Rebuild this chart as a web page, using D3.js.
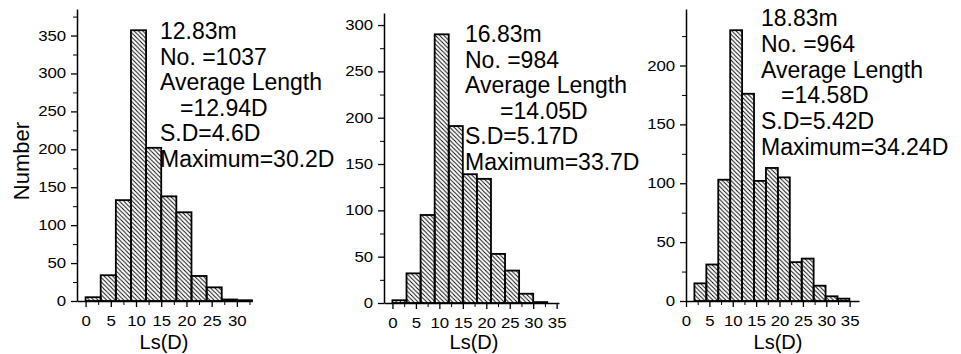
<!DOCTYPE html>
<html>
<head>
<meta charset="utf-8">
<script src="https://cdn.jsdelivr.net/npm/d3@7"></script>
<style>
  body { margin: 0; background: #fff; }
  text { font-family: "Liberation Sans", Arial, sans-serif; }
</style>
</head>
<body>
<svg id="chart" width="961" height="354"></svg>
<script>
// counts per bin
const counts1 = [5, 34, 133, 357, 202, 138, 117, 33, 18, 2, 1];
const counts2 = [3, 32, 95, 290, 191, 139, 134, 53, 35, 10, 1];
const counts3 = [15, 31, 103, 230, 176, 102, 113, 105, 33, 36, 13, 4, 2];

// first bin edge and bin width (in D)
const bins1 = [0, 3];
const bins2 = [0, 3];
const bins3 = [1.8, 2.55];

const notes1 = ["12.83m", "No. =1037", "Average Length", "=12.94D", "S.D=4.6D", "Maximum=30.2D"];
const notes2 = ["16.83m", "No. =984", "Average Length", "=14.05D", "S.D=5.17D", "Maximum=33.7D"];
const notes3 = ["18.83m", "No. =964", "Average Length", "=14.58D", "S.D=5.42D", "Maximum=34.24D"];

const xTicks1 = [0, 5, 10, 15, 20, 25, 30];
const xTicks2 = [0, 5, 10, 15, 20, 25, 30, 35];
const xTicks3 = [0, 5, 10, 15, 20, 25, 30, 35];

const yMax1 = 385, yMax2 = 313, yMax3 = 248;

const svg = d3.select("#chart");

const defs = svg.append("defs");
defs.append("pattern")
    .attr("id", "hatch")
    .attr("patternUnits", "userSpaceOnUse")
    .attr("width", 4.3)
    .attr("height", 4.3)
  .append("path")
    .attr("d", "M0,0 L4.3,4.3 M-1,3.3 L1,5.3 M3.3,-1 L5.3,1")
    .attr("stroke", "#000")
    .attr("stroke-width", 0.9);

const panels = [
    {counts: counts1, bins: bins1, notes: notes1, xTicks: xTicks1, yMax: yMax1,
     left: 77, right: 252, top: 9, bottom: 301, xDomain: [-1.7, 33],
     noteX: 160, noteIndent: 180, noteY: 39, noteStep: 25.6, titleX: 164, ylabel: true},
    {counts: counts2, bins: bins2, notes: notes2, xTicks: xTicks2, yMax: yMax2,
     left: 384, right: 559, top: 13, bottom: 303, xDomain: [-1.8, 35.5],
     noteX: 465, noteIndent: 500, noteY: 42, noteStep: 25.6, titleX: 474, ylabel: false},
    {counts: counts3, bins: bins3, notes: notes3, xTicks: xTicks3, yMax: yMax3,
     left: 686, right: 859, top: 9, bottom: 301, xDomain: [0, 37],
     noteX: 761, noteIndent: 781, noteY: 26, noteStep: 25.8, titleX: 778, ylabel: false}
];

panels.forEach(p => drawPanel(p));

function drawPanel(p) {
    const g = svg.append("g");

    const x = d3.scaleLinear().domain(p.xDomain).range([p.left, p.right]);
    const y = d3.scaleLinear().domain([0, p.yMax]).range([p.bottom, p.top]);

    const data = p.counts.map((c, i) => ({
        x0: p.bins[0] + i * p.bins[1],
        x1: p.bins[0] + (i + 1) * p.bins[1],
        c: c
    }));

    g.selectAll("rect.bar")
        .data(data)
        .enter()
        .append("rect")
        .attr("class", "bar")
        .attr("x", d => x(d.x0))
        .attr("width", d => x(d.x1) - x(d.x0))
        .attr("y", d => y(d.c))
        .attr("height", d => y(0) - y(d.c))
        .attr("fill", "url(#hatch)")
        .attr("stroke", "#000")
        .attr("stroke-width", 1.8);

    // minor ticks
    const xMinor = d3.range(2.5, p.xDomain[1], 5);
    const yMinor = d3.range(25, p.yMax, 50);

    g.append("g")
        .attr("transform", `translate(0,${p.bottom})`)
        .call(d3.axisBottom(x).tickValues(xMinor).tickSize(4).tickFormat(""))
        .call(a => a.select(".domain").remove());

    g.append("g")
        .attr("transform", `translate(${p.left},0)`)
        .call(d3.axisLeft(y).tickValues(yMinor).tickSize(4).tickFormat(""))
        .call(a => a.select(".domain").remove());

    const xa = g.append("g")
        .attr("transform", `translate(0,${p.bottom})`)
        .call(d3.axisBottom(x).tickValues(p.xTicks).tickSize(6).tickSizeOuter(0).tickPadding(9));

    const ya = g.append("g")
        .attr("transform", `translate(${p.left},0)`)
        .call(d3.axisLeft(y).tickValues(d3.range(0, p.yMax, 50)).tickSize(6).tickSizeOuter(0).tickPadding(3));

    [xa, ya].forEach(a => {
        a.selectAll("text")
            .attr("font-family", "Liberation Sans, Arial, sans-serif")
            .attr("font-size", "14px")
            .attr("transform", "scale(1.2,1)")
            .attr("fill", "#000");
        a.selectAll("line").attr("stroke", "#000").attr("stroke-width", 1.3);
        a.select(".domain").attr("stroke", "#000").attr("stroke-width", 1.5);
    });

    g.append("text")
        .text("Ls(D)")
        .attr("x", p.titleX)
        .attr("y", 349)
        .attr("text-anchor", "middle")
        .attr("font-size", "20px")
        .attr("fill", "#000");

    if (p.ylabel) {
        g.append("text")
            .text("Number")
            .attr("transform", "translate(29,161) rotate(-90)")
            .attr("text-anchor", "middle")
            .attr("font-size", "22px")
            .attr("fill", "#000");
    }

    g.selectAll("text.note")
        .data(p.notes)
        .enter()
        .append("text")
        .attr("class", "note")
        .text(d => d)
        .attr("x", (d, i) => i === 3 ? p.noteIndent : p.noteX)
        .attr("y", (d, i) => p.noteY + i * p.noteStep)
        .attr("font-size", "23px")
        .attr("fill", "#000");
}
</script>
</body>
</html>
